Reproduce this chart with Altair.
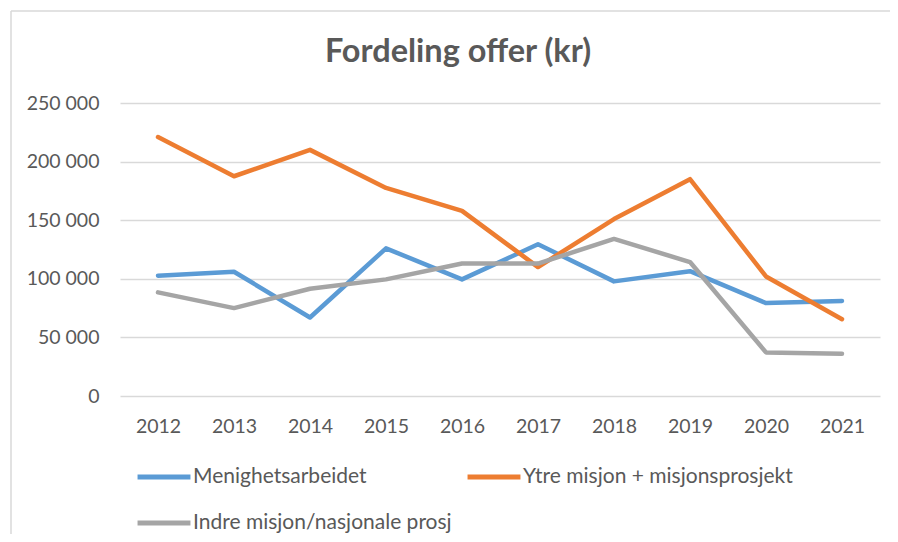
import altair as alt
import pandas as pd

years = ["2012", "2013", "2014", "2015", "2016", "2017", "2018", "2019", "2020", "2021"]
menighet = [102600, 106000, 67000, 126000, 99500, 129500, 97800, 106500, 79300, 81000]
ytre = [221000, 187500, 210000, 177500, 158000, 110000, 151000, 185000, 102000, 65500]
indre = [88400, 75000, 91500, 99500, 113000, 113000, 134000, 114300, 37200, 36100]
series_names = ["Menighetsarbeidet", "Ytre misjon + misjonsprosjekt", "Indre misjon/nasjonale prosj"]
colors = ["#5B9BD5", "#ED7D31", "#A5A5A5"]
y_ticks = [0, 50000, 100000, 150000, 200000, 250000]

rows = []
for name, vals in zip(series_names, [menighet, ytre, indre]):
    for yr, v in zip(years, vals):
        rows.append({"year": yr, "value": v, "series": name})
df = pd.DataFrame(rows)

W, H = 760, 293
FONT = "Lato"
TXT = "#595959"
GRID = "#D9D9D9"

lines = alt.Chart(df).mark_line(strokeWidth=4.5, strokeCap="round", strokeJoin="round").encode(
    x=alt.X("year:O", sort=years,
            scale=alt.Scale(type="point", padding=0.5),
            axis=alt.Axis(title=None, labelAngle=0, domain=False, ticks=False, grid=False,
                          labelFont=FONT, labelFontSize=19.5, labelColor=TXT, labelPadding=21)),
    y=alt.Y("value:Q", scale=alt.Scale(domain=[0, 250000], nice=False),
            axis=alt.Axis(title=None, values=y_ticks, domain=False, ticks=False,
                          grid=True, gridColor=GRID, gridWidth=1.6,
                          labelFont=FONT, labelFontSize=19.5, labelColor=TXT, labelPadding=21,
                          labelExpr="replace(format(datum.value, ','), ',', ' ')")),
    color=alt.Color("series:N", sort=series_names,
                    scale=alt.Scale(domain=series_names, range=colors),
                    legend=alt.Legend(title=None, orient="none", legendX=15, legendY=345,
                                      direction="horizontal", columns=2, columnPadding=5,
                                      rowPadding=7,
                                      symbolType="stroke", symbolSize=2800, symbolStrokeWidth=5,
                                      labelFont=FONT, labelFontSize=21, labelColor=TXT,
                                      labelOffset=0, labelLimit=400)),
    order=alt.Order("year:O"),
)

frame = alt.Chart(alt.Data(values=[{}]))
border_v = frame.mark_rule(color=GRID, strokeWidth=1.5).encode(
    x=alt.value(-109), y=alt.value(-92), y2=alt.value(H + 140))
border_h = frame.mark_rule(color=GRID, strokeWidth=1.5).encode(
    x=alt.value(-109), x2=alt.value(W + 12), y=alt.value(-92))

chart = alt.layer(border_v, border_h, lines).properties(
    width=W, height=H,
    title=alt.TitleParams("Fordeling offer (kr)", font=FONT, fontSize=32.5, fontWeight="bold",
                          color=TXT, anchor="middle", frame="group", dx=-42, offset=-58),
    autosize=alt.AutoSizeParams(type="none"),
    padding={"left": 112, "top": 95, "right": 10, "bottom": 138},
).configure_view(stroke=None)

chart.save("out.html", embed_options={"renderer": "svg", "actions": False})
